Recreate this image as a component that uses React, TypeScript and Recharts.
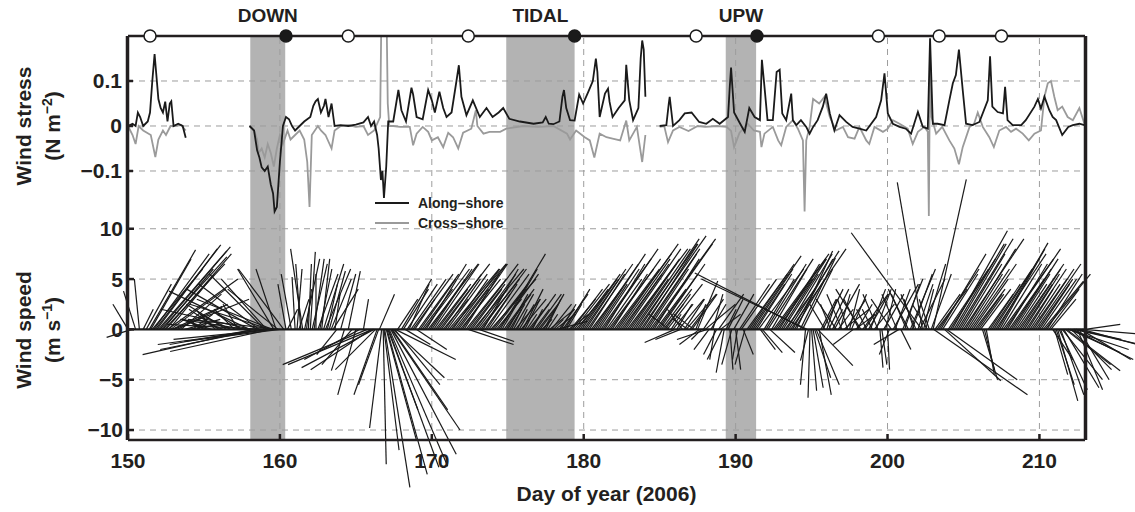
import React from "react";
import {
  ComposedChart,
  Legend,
  Line,
  ReferenceArea,
  ReferenceDot,
  ReferenceLine,
  XAxis,
  YAxis
} from "recharts";

type Pt = [number, number | null];
type Stick = [number, number, number]; // day, u (m/s), v (m/s)

const dayTicks = [150, 160, 170, 180, 190, 200, 210];
const stressTicks = [-0.1, 0, 0.1];
const speedTicks = [-10, -5, 0, 5, 10];

const events = [
  { name: "DOWN", start: 158.05, end: 160.35 },
  { name: "TIDAL", start: 174.9, end: 179.4 },
  { name: "UPW", start: 189.35, end: 191.35 }
];
const openSurveys = [151.45, 164.5, 172.4, 187.4, 199.4, 203.4, 207.5];
const filledSurveys = [160.4, 179.4, 191.4];

// wind stress (N m^-2), null = gap in the record
const alongShore: Pt[] = [
  [150.0, 0.0], [150.3, 0.005], [150.5, 0.0], [150.65, 0.03], [150.8, 0.02], [151.0, 0.0],
  [151.3, 0.01], [151.45, 0.03], [151.6, 0.1], [151.75, 0.16], [151.85, 0.12], [152.0, 0.06],
  [152.15, 0.04], [152.3, 0.03], [152.45, 0.054], [152.6, 0.01], [152.75, 0.05], [152.85, 0.055],
  [153.0, 0.0], [153.3, 0.005], [153.6, 0.0], [153.8, -0.026], [156.0, null],
  [158.0, 0.0], [158.3, -0.01], [158.5, -0.054], [158.65, -0.07], [158.8, -0.092], [159.0, -0.1],
  [159.2, -0.09], [159.4, -0.13], [159.55, -0.15], [159.65, -0.19], [159.8, -0.18], [160.0, -0.08],
  [160.2, 0.0], [160.4, 0.02], [160.6, 0.015], [160.8, 0.0], [161.0, -0.01], [161.3, 0.0],
  [161.6, 0.01], [162.0, 0.02], [162.2, 0.045], [162.35, 0.055], [162.5, 0.06], [162.7, 0.03],
  [162.9, 0.045], [163.0, 0.06], [163.2, 0.02], [163.4, 0.05], [163.6, 0.0], [164.0, 0.002],
  [164.5, 0.0], [165.0, 0.003], [165.5, 0.008], [165.8, 0.02], [166.0, 0.0], [166.2, 0.01],
  [166.4, -0.02], [166.5, -0.05], [166.65, -0.12], [166.75, -0.1], [166.85, -0.16], [167.0, -0.09],
  [167.13, 0.01], [167.46, 0.01], [167.8, 0.08], [168.0, 0.035], [168.3, 0.01], [168.66, 0.085],
  [168.77, 0.07], [169.0, 0.02], [169.4, 0.015], [169.76, 0.08], [170.0, 0.057], [170.2, 0.03],
  [170.5, 0.076], [170.75, 0.04], [170.97, 0.02], [171.3, 0.03], [171.6, 0.095], [171.78, 0.135],
  [171.95, 0.065], [172.28, 0.024], [172.7, 0.057], [173.16, 0.02], [173.6, 0.04], [174.0, 0.02],
  [174.4, 0.03], [174.7, 0.04], [175.1, 0.016], [175.8, 0.01], [176.7, 0.005], [177.3, 0.008],
  [177.5, 0.02], [177.7, 0.005], [178.0, 0.004], [178.4, 0.01], [178.6, 0.065], [178.7, 0.08],
  [178.85, 0.04], [179.1, 0.013], [179.4, 0.012], [179.7, 0.07], [179.96, 0.05], [180.3, 0.076],
  [180.6, 0.1], [180.8, 0.15], [180.9, 0.12], [181.05, 0.02], [181.4, 0.072], [181.6, 0.083],
  [181.7, 0.054], [181.9, 0.02], [182.3, 0.04], [182.7, 0.057], [182.8, 0.136], [183.0, 0.057],
  [183.25, 0.013], [183.6, 0.04], [183.75, 0.15], [183.85, 0.19], [183.95, 0.17], [184.06, 0.065],
  [184.5, null],
  [185.0, 0.0], [185.44, 0.002], [185.6, 0.05], [185.66, 0.065], [185.88, 0.0], [186.3, 0.013],
  [186.65, 0.028], [187.1, 0.03], [187.6, 0.009], [188.07, 0.005], [188.5, 0.016], [188.95, 0.005],
  [189.5, 0.02], [189.62, 0.09], [189.7, 0.13], [189.8, 0.08], [189.9, 0.03], [190.3, 0.005],
  [190.6, -0.013], [190.9, 0.04], [191.25, 0.02], [191.6, 0.013], [191.73, 0.147], [191.9, 0.087],
  [192.1, 0.013], [192.45, 0.013], [192.7, 0.12], [192.9, 0.125], [193.07, 0.028], [193.33, 0.013],
  [193.66, 0.072], [193.77, 0.013], [194.0, 0.002], [194.3, 0.013], [194.65, -0.002], [194.87, -0.017],
  [195.1, -0.002], [195.4, 0.013], [195.74, 0.043], [195.96, 0.072], [196.2, 0.028], [196.5, -0.01],
  [196.84, 0.024], [197.28, 0.009], [197.7, -0.002], [198.15, -0.006], [198.6, -0.01], [199.25, 0.02],
  [199.58, 0.057], [199.8, 0.117], [200.02, 0.028], [200.35, 0.005], [200.79, -0.002], [201.2, -0.006],
  [201.55, -0.017], [202.0, 0.031], [202.32, -0.002], [202.65, -0.006], [202.8, 0.195], [202.98, 0.005],
  [203.3, 0.005], [203.75, 0.002], [204.07, 0.057], [204.3, 0.095], [204.5, 0.113], [204.7, 0.17],
  [204.95, 0.08], [205.17, 0.005], [205.6, 0.002], [206.05, 0.009], [206.6, 0.057], [206.75, 0.155],
  [206.9, 0.043], [207.25, 0.031], [207.6, 0.028], [207.74, 0.087], [207.9, 0.013], [208.24, 0.002],
  [208.8, 0.002], [209.1, 0.013], [209.67, 0.043], [209.9, 0.06], [210.1, 0.039], [210.33, 0.065],
  [210.65, 0.035], [210.87, 0.02], [211.1, 0.013], [211.5, -0.02], [211.9, -0.002], [212.2, 0.002],
  [212.63, 0.005], [212.96, 0.002]
];

const crossShore: Pt[] = [
  [150.0, 0.0], [150.3, -0.02], [150.5, -0.04], [150.7, 0.0], [151.0, -0.01], [151.5, -0.02],
  [151.8, -0.069], [152.0, -0.03], [152.3, -0.01], [152.5, -0.02], [152.8, 0.0], [153.0, 0.0],
  [153.5, 0.002], [153.8, -0.01], [156.0, null],
  [158.0, 0.0], [158.3, -0.01], [158.5, -0.03], [158.6, -0.06], [158.8, -0.05], [159.0, -0.07],
  [159.2, -0.04], [159.4, -0.06], [159.6, -0.09], [159.8, -0.05], [160.0, -0.02], [160.2, -0.04],
  [160.5, -0.01], [160.7, -0.03], [161.0, -0.02], [161.3, -0.01], [161.6, -0.03], [161.8, -0.08],
  [161.95, -0.18], [162.1, -0.02], [162.5, 0.0], [162.7, -0.01], [163.0, -0.02], [163.4, -0.05],
  [163.6, -0.01], [164.0, 0.0], [164.5, 0.002], [165.0, -0.002], [165.5, 0.0], [165.8, -0.02],
  [166.2, -0.01], [166.6, 0.02], [166.7, 0.3], [166.85, 0.25], [167.0, 0.3], [167.1, 0.05],
  [167.2, 0.0], [167.46, 0.0], [167.9, -0.002], [168.55, -0.002], [168.77, -0.043], [169.0, -0.017],
  [169.4, -0.002], [169.76, -0.013], [170.0, -0.032], [170.4, -0.025], [170.75, -0.047], [171.08, -0.015],
  [171.4, -0.025], [171.74, -0.05], [172.06, -0.015], [172.6, -0.006], [172.9, 0.035], [173.0, 0.0],
  [173.4, -0.017], [173.8, -0.013], [174.5, -0.013], [174.9, -0.006], [176.0, 0.0], [177.0, -0.002],
  [178.0, 0.0], [178.9, -0.017], [179.1, -0.03], [179.5, -0.01], [180.07, -0.025], [180.4, -0.032],
  [180.7, -0.07], [181.05, -0.017], [181.5, -0.025], [181.9, -0.028], [182.4, -0.032], [182.8, 0.012],
  [183.0, -0.032], [183.5, -0.002], [183.7, -0.047], [183.85, -0.08], [184.06, -0.02], [184.5, null],
  [185.0, -0.002], [185.3, 0.0], [185.55, -0.036], [185.88, -0.01], [186.3, -0.002], [186.9, -0.011],
  [187.5, 0.0], [188.0, -0.002], [188.8, 0.0], [189.4, -0.002], [189.7, -0.011], [189.9, -0.047],
  [190.26, -0.015], [190.8, 0.005], [191.2, -0.01], [191.6, -0.013], [191.7, -0.047], [191.9, -0.017],
  [192.45, -0.002], [192.8, -0.032], [193.0, -0.043], [193.33, -0.002], [193.77, 0.013], [194.1, -0.006],
  [194.43, -0.032], [194.54, -0.19], [194.65, -0.032], [194.87, -0.002], [195.1, 0.06], [195.5, 0.05],
  [195.85, 0.065], [196.2, 0.02], [196.6, -0.01], [197.06, -0.002], [197.4, -0.025], [197.83, -0.028],
  [198.15, -0.002], [198.6, -0.032], [198.8, -0.04], [199.14, -0.002], [199.7, -0.013], [200.02, -0.006],
  [200.35, 0.013], [200.79, 0.005], [201.33, -0.006], [201.66, -0.04], [202.0, -0.013], [202.43, -0.002],
  [202.65, -0.013], [202.72, -0.2], [202.8, 0.16], [202.9, 0.02], [203.2, -0.017], [203.6, -0.002],
  [204.07, -0.032], [204.4, -0.05], [204.7, -0.085], [204.95, -0.047], [205.4, -0.002], [205.7, 0.005],
  [205.94, 0.03], [206.27, -0.002], [206.7, -0.025], [207.0, -0.047], [207.36, -0.01], [207.8, -0.002],
  [208.13, -0.013], [208.46, -0.006], [208.9, -0.017], [209.3, -0.032], [209.67, -0.017], [210.1, -0.01],
  [210.33, 0.065], [210.55, 0.095], [210.76, 0.1], [210.98, 0.065], [211.2, 0.035], [211.5, 0.043],
  [211.86, 0.02], [212.2, 0.013], [212.63, 0.04], [212.96, 0.005]
];

// wind vectors: [day, u, v] in m/s
const sticks150: Stick[] = [
  [150.0, -1.5, 2.5], [150.25, -2.5, -0.8], [150.5, -1.2, 3.8], [150.75, -0.5, 5.0],
  [151.0, 1.0, 2.0], [151.2, 2.5, 4.5], [151.4, 4.6, 7.9], [151.5, 4.0, 7.0], [151.6, 5.0, 6.0],
  [151.7, 5.5, 7.5], [151.8, 6.5, 8.4], [151.9, 6.0, 8.0],
  [152.0, 6.8, 7.8], [152.1, 7.0, 8.2], [152.2, 6.5, 7.2], [152.3, 5.0, 6.0], [152.4, 6.0, 6.5],
  [152.5, 6.5, 7.5], [152.6, 7.0, 5.0], [152.7, 4.5, 5.5], [152.8, 5.5, 4.0],
  [152.9, 5.0, 2.3], [153.0, 7.5, 3.0], [153.25, 5.0, 2.5], [153.5, 4.0, 3.5], [153.75, 3.5, 1.0],
  [154.0, 3.0, 0.5], [154.25, 2.0, 1.5], [154.5, 1.0, 0.5], [154.75, -1.0, 1.0],
  [155.0, -2.0, 1.0], [155.25, -1.5, 0.5], [155.5, -3.0, 1.0], [155.75, -2.0, 2.0],
  [156.0, -3.0, 2.0], [156.25, -2.5, 1.0], [156.5, -4.0, 2.5], [156.75, -3.0, 1.5],
  [157.0, -2.0, 2.0], [157.25, -1.5, 2.5], [157.5, -2.5, 1.5], [157.75, -6.5, 1.0],
  [158.0, -8.0, 3.8], [158.125, -9.0, 2.0], [158.25, -11.0, -2.5], [158.375, -8.5, -1.5],
  [158.5, -7.0, 4.0], [158.625, -6.0, 4.5], [158.75, -10.0, -2.0], [158.875, -9.5, 0.5],
  [159.0, -5.5, 5.5], [159.125, -4.5, 5.0], [159.25, -11.0, -1.5], [159.375, -8.0, 2.5],
  [159.4, -10.0, -2.2], [159.5, -7.5, 3.0], [159.6, -3.6, 6.0], [159.625, -10.0, -1.0],
  [159.75, -2.0, 6.0], [159.875, -5.0, 4.0], [159.9, -9.0, 1.0]
];

const sticks160: Stick[] = [
  [160.0, -9.5, -1.2], [160.25, -4.5, 6.0], [160.4, -0.8, 4.5], [160.5, 1.0, 2.0], [160.75, -1.0, 5.5],
  [161.0, -0.3, 5.2], [161.125, 0.5, 6.0], [161.25, 1.0, 3.0], [161.375, -0.5, 6.5], [161.5, -1.2, 8.0],
  [161.625, 1.5, 7.0], [161.75, 0.5, 4.0], [161.875, 0.3, 6.5],
  [162.0, 0.5, 7.7], [162.125, 1.5, 6.5], [162.25, 1.0, 7.0], [162.375, 0.0, 5.5], [162.5, 2.0, 5.5],
  [162.625, 1.2, 6.0], [162.75, 0.8, 7.0], [162.875, 2.0, 6.5],
  [163.0, 2.5, 6.0], [163.125, 1.0, 4.5], [163.25, 1.6, 5.8], [163.375, 2.0, 5.0], [163.5, 2.5, 4.0],
  [163.625, 0.5, 3.5], [163.75, -2.0, -2.5],
  [164.0, 1.5, 5.5], [164.25, -1.3, -4.1], [164.5, 1.2, 5.8], [164.75, -3.0, -3.5],
  [165.0, -1.8, -6.5], [165.25, -5.5, -3.0], [165.5, 0.5, 3.0], [165.75, -8.4, -3.5],
  [166.0, -6.0, -4.0], [166.1, -8.4, -3.5], [166.2, -7.2, -3.8], [166.3, -4.0, -4.0],
  [166.4, -2.3, -6.5], [166.5, -2.0, -5.5], [166.55, 1.5, 3.5],
  [166.7, -1.2, -9.8], [166.8, 0.3, -13.4], [166.85, 1.5, -12.0], [166.9, 2.5, -15.7],
  [167.0, 3.0, -11.0], [167.05, 4.0, -14.4], [167.1, 3.0, -8.0], [167.15, 5.0, -13.7],
  [167.2, 5.8, -13.6], [167.3, 6.5, -12.4], [167.35, 6.8, -10.0], [167.4, 5.5, -8.0],
  [167.45, 5.1, -4.8], [167.55, 4.5, -5.5], [167.6, 6.0, -3.0],
  [167.75, 2.0, 3.0], [168.0, 3.0, 5.0], [168.125, 2.5, 4.0], [168.25, 2.5, -1.5], [168.375, 3.0, 4.5],
  [168.5, 2.0, 4.5], [168.625, 3.5, 5.0], [168.75, 4.0, 5.5], [168.875, 2.0, 3.0],
  [169.0, 3.0, -2.0], [169.125, 4.0, 5.5], [169.25, 3.5, 5.0], [169.375, 3.0, 4.0], [169.5, 4.5, 6.0],
  [169.625, 4.0, 6.5], [169.75, 5.0, 6.5], [169.875, 3.5, 5.0]
];

const sticks170: Stick[] = [
  [170.0, 4.0, 6.0], [170.125, 4.5, 6.5], [170.25, 3.5, 4.5], [170.375, 3.0, 4.0], [170.5, 5.0, 6.5],
  [170.625, 4.0, 5.5], [170.75, 2.5, 3.0], [170.875, 3.5, 5.0],
  [171.0, 4.0, 5.5], [171.125, 5.0, 6.0], [171.25, 5.5, 6.5], [171.375, 3.5, 5.0], [171.5, 4.5, 6.0],
  [171.625, 5.0, 6.5], [171.75, 3.0, 4.0], [171.875, 4.0, 5.0],
  [172.0, 4.5, 6.5], [172.125, 3.5, 5.5], [172.25, 4.0, 5.0], [172.375, 5.0, 6.5], [172.4, 4.5, -1.5],
  [172.5, 3.5, 4.5], [172.625, 3.0, 4.0], [172.75, 5.0, 6.0], [172.875, 4.0, 5.5],
  [173.0, 3.0, 4.0], [173.1, 3.5, -1.2], [173.125, 4.0, 5.0], [173.25, 4.5, 6.0], [173.375, 3.5, 6.0],
  [173.5, 2.5, 3.5], [173.625, 3.0, 4.5], [173.75, 4.0, 5.5], [173.875, 4.5, 5.0],
  [174.0, 3.5, 4.5], [174.125, 3.0, 4.0], [174.25, 2.5, 3.0], [174.375, 4.0, 5.5], [174.5, 4.5, 7.5],
  [174.625, 3.5, 6.0], [174.75, 3.0, 4.0], [174.875, 2.5, 3.5],
  [175.0, 2.0, 3.5], [175.125, 1.5, 2.5], [175.25, 1.0, 2.0], [175.375, 2.0, 3.5], [175.5, 2.5, 3.0],
  [175.625, 1.0, 2.0], [175.75, 1.5, 2.5], [175.875, 2.5, 3.0],
  [176.0, 2.0, 4.0], [176.125, 1.5, 3.0], [176.25, 1.0, 1.5], [176.375, 2.0, 2.5], [176.5, 2.5, 3.5],
  [176.625, 1.0, 2.0], [176.75, 1.5, 2.0], [176.875, 2.5, 3.5],
  [177.0, 2.0, 2.5], [177.125, 1.5, 2.0], [177.25, 1.0, 1.0], [177.375, 2.0, 3.5], [177.5, 1.5, 3.0],
  [177.625, 1.0, 1.5], [177.75, 2.5, 2.0], [177.875, 2.0, 2.5],
  [178.0, 1.0, 1.0], [178.125, 2.0, 1.5], [178.25, 3.0, 0.8], [178.375, 1.5, 2.0], [178.5, 1.5, 2.5],
  [178.625, 2.5, 3.5], [178.75, 2.5, 4.0], [178.875, 1.5, 2.5],
  [179.0, 2.0, 1.5], [179.125, 2.5, 3.0], [179.25, 3.0, 4.0], [179.375, 3.5, 4.5], [179.5, 2.5, 3.0],
  [179.625, 3.0, 4.0], [179.75, 4.0, 5.5], [179.875, 3.5, 5.0]
];

const sticks180: Stick[] = [
  [180.0, 3.5, 5.0], [180.125, 4.0, 6.0], [180.25, 4.5, 6.5], [180.375, 3.5, 5.5], [180.5, 3.0, 4.0],
  [180.625, 4.5, 6.5], [180.75, 5.0, 7.5], [180.875, 3.0, 4.5],
  [181.0, 4.0, 6.0], [181.125, 5.0, 7.0], [181.25, 5.5, 8.0], [181.375, 4.0, 6.5], [181.5, 3.5, 5.0],
  [181.625, 4.5, 6.0], [181.75, 5.0, 7.0], [181.875, 3.5, 5.5],
  [182.0, 4.5, 6.0], [182.125, 5.5, 7.5], [182.25, 6.0, 8.5], [182.375, 5.0, 7.0], [182.5, 4.0, 5.5],
  [182.625, 4.5, 6.5], [182.75, 5.5, 8.0], [182.875, 6.0, 8.0],
  [183.0, 5.0, 7.0], [183.125, 4.5, 6.5], [183.25, 3.5, 5.0], [183.375, 5.5, 8.0], [183.5, 6.0, 8.5],
  [183.625, 6.0, 9.0], [183.75, 6.5, 9.3], [183.875, 5.5, 8.5],
  [184.0, 5.5, 8.0], [184.125, 5.0, 7.5], [184.25, 4.0, 6.0], [184.375, 6.5, 9.0], [184.5, 6.0, 8.5],
  [184.625, 4.5, 7.0], [184.75, 3.0, 4.0], [184.875, 4.0, 5.5],
  [185.0, 4.5, 6.5], [185.125, 3.0, 4.0], [185.25, 2.0, 2.5], [185.375, 2.5, 3.5], [185.5, 3.5, 4.5],
  [185.625, -2.0, 1.5], [185.75, 1.0, 1.5], [185.875, 2.0, 2.5],
  [186.0, -3.0, -1.3], [186.125, 1.5, 2.5], [186.25, 2.5, 3.0], [186.375, -2.5, -1.0], [186.5, -1.5, 2.0],
  [186.625, 2.0, 3.0], [186.75, 3.0, 3.5], [186.875, -1.5, 1.0],
  [187.0, 1.5, 2.0], [187.125, 2.5, 3.5], [187.25, -2.0, 1.5], [187.375, 1.0, 2.5], [187.5, 2.0, 4.8],
  [187.625, -2.0, -1.5], [187.75, -1.0, -1.0], [187.875, 2.0, 3.0],
  [188.0, 3.0, 2.5], [188.125, -3.0, -1.0], [188.25, -1.5, -2.0], [188.375, 1.5, 2.5], [188.5, 1.0, 3.5],
  [188.625, -0.5, -3.0], [188.75, -1.3, -2.5], [188.875, 2.5, 3.5],
  [189.0, 2.0, 1.5], [189.125, -1.5, -3.0], [189.25, -0.8, -4.3], [189.375, 1.0, 2.0], [189.5, 1.5, 3.0],
  [189.625, 0.3, -4.0], [189.75, -1.0, -3.5], [189.875, 2.0, 3.5]
];

const sticks190: Stick[] = [
  [190.0, 0.5, -4.0], [190.125, -0.5, -3.0], [190.25, 3.0, 4.5], [190.375, 3.5, 5.0], [190.5, 1.0, -2.5],
  [190.625, -1.0, -3.5], [190.75, 4.0, 5.5], [190.875, 4.5, 6.5],
  [191.0, 5.0, 7.3], [191.125, 4.0, 6.0], [191.25, 3.0, 4.5], [191.375, 3.5, 5.5], [191.5, 4.5, 6.0],
  [191.625, 1.5, -2.0], [191.75, 2.0, -2.3], [191.875, 3.0, 5.0],
  [192.0, 4.0, 6.5], [192.125, 4.5, 7.0], [192.25, 2.5, -2.3], [192.375, 3.5, 6.0], [192.5, 5.5, 7.5],
  [192.625, 5.0, 7.0], [192.75, 3.5, 5.0], [192.875, 4.0, 6.5],
  [193.0, 4.5, 7.0], [193.125, 3.5, 5.5], [193.25, 3.0, 4.0], [193.375, 4.5, 7.5], [193.5, 5.0, 7.8],
  [193.625, 5.5, 8.0], [193.75, 4.0, 7.0], [193.875, 3.0, 5.0],
  [194.0, 3.6, 7.8], [194.25, 3.5, 7.1], [194.4, 3.0, 6.0], [194.6, -11.0, 5.6], [194.7, -10.5, 5.0],
  [194.6, -0.5, -5.5], [194.8, -0.8, -3.1], [194.9, -0.2, -6.8], [195.0, 0.5, -6.1],
  [195.1, 1.0, -5.8], [195.2, 1.6, -4.8], [195.3, 2.3, -5.5], [195.4, 3.5, -3.6], [195.5, 1.2, -6.5],
  [195.625, 1.5, 3.0], [195.75, 2.0, 4.0], [195.875, -1.5, 2.5],
  [196.0, 1.0, 3.0], [196.125, 2.0, 4.0], [196.25, -1.0, 2.5], [196.375, 1.0, 2.0], [196.5, 2.5, 4.5],
  [196.625, -2.0, 3.0], [196.75, 1.5, 2.0], [196.875, 1.0, 3.5],
  [197.0, -1.5, 3.5], [197.125, 2.5, 2.0], [197.25, 2.0, 3.0], [197.375, -1.0, 3.0], [197.5, 1.0, 4.0],
  [197.625, 1.5, 3.5], [197.75, -2.0, -1.5], [197.875, 2.0, 1.5],
  [198.0, 1.5, 2.5], [198.125, -1.5, 3.0], [198.25, -2.5, 4.0], [198.375, 2.5, 3.5], [198.5, 1.0, 1.5],
  [198.625, -1.0, 2.0], [198.75, 2.0, 3.5], [198.875, 1.5, 4.0],
  [199.0, -1.0, 2.0], [199.125, 2.0, 2.5], [199.25, 1.5, 4.0], [199.375, -1.5, 3.5], [199.5, 0.3, -3.8],
  [199.625, 0.5, -3.5], [199.75, 2.0, 3.5], [199.875, 1.0, 4.0]
];

const sticks200: Stick[] = [
  [200.0, 0.2, -4.0], [200.125, -1.0, -2.5], [200.25, -2.0, 3.0], [200.375, 2.5, 4.5], [200.5, 1.5, 4.0],
  [200.625, -1.5, 3.5], [200.75, -2.5, -1.5], [200.875, 1.0, -2.0],
  [201.0, 2.0, 5.0], [201.125, 1.5, 4.5], [201.25, -1.5, 3.5], [201.375, -2.0, 4.0], [201.5, 2.5, 6.0],
  [201.625, 2.0, 5.5], [201.75, -1.0, 3.0], [201.875, -1.5, 3.5],
  [202.0, 1.5, 4.5], [202.125, 2.5, 5.0], [202.25, -7.0, 9.6], [202.3, -2.5, 14.6], [202.375, 1.0, 4.0],
  [202.5, 2.0, 6.5], [202.625, -1.5, 2.5], [202.75, -1.0, 3.0], [202.875, 2.0, 5.5],
  [203.0, 3.3, 14.9], [203.05, 9.3, -6.5], [203.125, 2.5, 3.5], [203.25, 3.0, 4.0], [203.375, 4.0, 6.0],
  [203.5, 4.5, 7.5], [203.625, 3.5, 5.5], [203.75, 5.6, -5.1], [203.9, 7.0, -5.0],
  [204.0, 4.0, 6.0], [204.125, 4.5, 7.0], [204.25, 5.5, 9.8], [204.375, 5.0, 8.5], [204.5, 5.0, 8.5],
  [204.625, 5.5, 9.0], [204.75, 4.5, 7.5], [204.875, 4.0, 6.5],
  [205.0, 6.0, 9.0], [205.125, 5.0, 8.0], [205.25, 3.5, 5.5], [205.375, 4.0, 6.0], [205.5, 4.5, 6.5],
  [205.625, 3.5, 5.0], [205.75, 3.0, 4.0], [205.875, 2.5, 3.5],
  [206.0, 2.5, 3.5], [206.125, 3.0, 4.0], [206.25, 1.5, -5.0], [206.375, 1.0, -4.0], [206.5, 0.8, -4.5],
  [206.625, 2.5, 3.5], [206.75, 3.0, 4.5], [206.875, 4.0, 6.0],
  [207.0, 4.5, 7.0], [207.125, 5.0, 7.5], [207.25, 5.0, 8.6], [207.375, 4.5, 8.0], [207.5, 4.0, 6.5],
  [207.625, 5.0, 7.0], [207.75, 5.5, 8.0], [207.875, 4.0, 6.5],
  [208.0, 3.5, 5.0], [208.125, 4.0, 6.0], [208.25, 4.5, 7.0], [208.375, 3.5, 5.5], [208.5, 3.0, 4.5],
  [208.625, 4.5, 6.5], [208.75, 4.0, 6.0], [208.875, 3.0, 4.5],
  [209.0, 3.5, 5.5], [209.125, 4.0, 6.0], [209.25, 2.5, 4.0], [209.375, 3.0, 4.5], [209.5, 3.5, 5.0],
  [209.625, 4.0, 6.0], [209.75, 4.5, 6.5], [209.875, 3.5, 5.0],
  [210.0, 3.0, 4.5], [210.125, 3.5, 5.0], [210.25, 4.0, 4.8], [210.375, 4.5, 5.5], [210.5, 3.5, 5.5],
  [210.625, 3.0, 4.0], [210.75, 2.5, 3.0], [210.875, 2.0, -3.0],
  [211.0, 1.3, -4.5], [211.1, 1.8, -5.5], [211.2, 2.0, -7.1], [211.3, 2.8, -6.0], [211.4, 2.3, -6.5],
  [211.5, 4.0, -5.0], [211.6, 3.5, -5.8], [211.7, 4.5, -3.5], [211.8, 5.3, -4.1], [211.9, 6.0, -2.0],
  [212.0, 5.0, -2.3], [212.1, 4.0, -4.0], [212.2, 6.0, -3.0], [212.3, 6.5, -1.5], [212.4, 4.5, -1.0],
  [212.5, 2.5, -6.0], [212.6, 3.0, -5.0], [212.7, 5.0, -3.0], [212.8, 5.5, -1.5], [212.9, 6.0, -0.5],
  [213.0, 3.5, 0.5]
];

const INK = "#231f20";
const GRID = "#9d9d9d";
const SHADE = "#b3b3b3";
const FONT = '"Liberation Sans", Arial, Helvetica, sans-serif';
// days per (m/s) so that sticks keep their true angle on screen
const STICK_DAYS_PER_MS = 0.6626;

const minus = (v: number) => (v < 0 ? `\u2212${Math.abs(v)}` : `${v}`);
const tickFont = { fill: INK, fontSize: 21, fontWeight: 700 };
const axisLine = { stroke: INK, strokeWidth: 2.5 };

function SeriesLegend({ payload }: any) {
  return (
    <div style={{ fontFamily: FONT, fontWeight: 700, fontSize: 14, color: INK }}>
      {(payload || []).map((p: any) => (
        <div key={p.value} style={{ display: "flex", alignItems: "center", height: 20 }}>
          <svg width={34} height={4} style={{ display: "block" }}>
            <line x1={0} y1={2} x2={34} y2={2} stroke={p.color} strokeWidth={2} />
          </svg>
          <span style={{ marginLeft: 9 }}>{p.value}</span>
        </div>
      ))}
    </div>
  );
}

export default function App() {
  const along = alongShore.map(([day, v]) => ({ day, along: v }));
  const cross = crossShore.map(([day, v]) => ({ day, cross: v }));
  const sticks = [...sticks150, ...sticks160, ...sticks170, ...sticks180, ...sticks190, ...sticks200];

  const title: React.CSSProperties = {
    position: "absolute",
    transform: "translate(-50%, -50%) rotate(-90deg)",
    textAlign: "center",
    whiteSpace: "nowrap",
    fontFamily: FONT,
    fontWeight: 700,
    fontSize: 21,
    lineHeight: "29px",
    color: INK
  };
  const sup: React.CSSProperties = { fontSize: 14, lineHeight: 0, verticalAlign: "8px" };

  return (
    <div style={{ position: "absolute", left: 0, top: 0, width: 1135, height: 512, background: "#fff", fontFamily: FONT }}>
      <ComposedChart width={1135} height={512} margin={{ top: 35, right: 48, bottom: 71, left: 126 }}>
        {events.map((e) => (
          <ReferenceArea
            key={e.name}
            xAxisId="day"
            yAxisId="stress"
            x1={e.start}
            x2={e.end}
            fill={SHADE}
            fillOpacity={1}
            stroke="none"
            label={{ value: e.name, position: "top", offset: 14, fill: INK, fontSize: 19, fontWeight: 700 }}
          />
        ))}

        {dayTicks.slice(1).map((d) => (
          <ReferenceLine key={`vx${d}`} xAxisId="day" yAxisId="stress" x={d} stroke={GRID} strokeDasharray="6 5" />
        ))}
        {stressTicks.map((t) => (
          <ReferenceLine key={`hs${t}`} xAxisId="day" yAxisId="stress" y={t} stroke={GRID} strokeDasharray="6 5" />
        ))}
        {speedTicks.map((t) => (
          <ReferenceLine key={`hw${t}`} xAxisId="day" yAxisId="speed" y={t} stroke={GRID} strokeDasharray="6 5" />
        ))}

        <Line
          data={cross}
          name="Cross–shore"
          xAxisId="day"
          yAxisId="stress"
          dataKey="cross"
          type="linear"
          stroke="#9a9a9a"
          strokeWidth={1.8}
          dot={false}
          activeDot={false}
          isAnimationActive={false}
        />
        <Line
          data={along}
          name="Along–shore"
          xAxisId="day"
          yAxisId="stress"
          dataKey="along"
          type="linear"
          stroke="#1a1a1a"
          strokeWidth={1.8}
          dot={false}
          activeDot={false}
          isAnimationActive={false}
        />

        {/* stick-plot baseline */}
        <ReferenceLine
          xAxisId="day"
          yAxisId="speed"
          segment={[
            { x: sticks150[0][0], y: 0 },
            { x: sticks200[sticks200.length - 1][0], y: 0 }
          ]}
          stroke="#1a1a1a"
          strokeWidth={2.2}
        />
        {sticks.map(([day, u, v], i) => (
          <ReferenceLine
            key={`s${i}`}
            xAxisId="day"
            yAxisId="speed"
            ifOverflow="visible"
            segment={[
              { x: day, y: 0 },
              { x: day + u * STICK_DAYS_PER_MS, y: v }
            ]}
            stroke="#1a1a1a"
            strokeWidth={1.2}
          />
        ))}

        <Legend
          layout="vertical"
          align="center"
          verticalAlign="middle"
          wrapperStyle={{ left: 375, top: 193, width: 180 }}
          content={<SeriesLegend />}
        />

        <XAxis
          xAxisId="day"
          type="number"
          dataKey="day"
          domain={[150, 213]}
          allowDataOverflow
          ticks={dayTicks}
          height={1}
          tickSize={-6}
          tickMargin={19}
          tick={tickFont}
          axisLine={axisLine}
          tickLine={axisLine}
          label={{ value: "Day of year (2006)", position: "bottom", offset: 45, fill: INK, fontSize: 21, fontWeight: 700 }}
        />
        <XAxis
          xAxisId="top"
          orientation="top"
          type="number"
          domain={[150, 213]}
          allowDataOverflow
          ticks={dayTicks}
          height={1}
          tickSize={-6}
          tick={false}
          axisLine={axisLine}
          tickLine={axisLine}
        />
        <YAxis
          yAxisId="stress"
          type="number"
          domain={[-0.6978, 0.2]}
          allowDataOverflow
          ticks={stressTicks}
          tickFormatter={minus}
          width={1}
          tickSize={-6}
          tickMargin={11}
          tick={tickFont}
          axisLine={axisLine}
          tickLine={axisLine}
        />
        <YAxis
          yAxisId="speed"
          type="number"
          domain={[-10.99, 29.15]}
          allowDataOverflow
          ticks={speedTicks}
          tickFormatter={minus}
          width={1}
          tickSize={-6}
          tickMargin={11}
          tick={tickFont}
          axisLine={axisLine}
          tickLine={axisLine}
        />
        <YAxis
          yAxisId="stressR"
          orientation="right"
          type="number"
          domain={[-0.6978, 0.2]}
          allowDataOverflow
          ticks={stressTicks}
          width={1}
          tickSize={-6}
          tick={false}
          axisLine={axisLine}
          tickLine={axisLine}
        />
        <YAxis
          yAxisId="speedR"
          orientation="right"
          type="number"
          domain={[-10.99, 29.15]}
          allowDataOverflow
          ticks={speedTicks}
          width={1}
          tickSize={-6}
          tick={false}
          axisLine={axisLine}
          tickLine={axisLine}
        />

        {openSurveys.map((d) => (
          <ReferenceDot key={`o${d}`} xAxisId="day" yAxisId="stress" x={d} y={0.2} r={6} fill="#fff" stroke="#1a1a1a" strokeWidth={1.5} ifOverflow="visible" />
        ))}
        {filledSurveys.map((d) => (
          <ReferenceDot key={`f${d}`} xAxisId="day" yAxisId="stress" x={d} y={0.2} r={6} fill="#1a1a1a" stroke="#1a1a1a" strokeWidth={1.5} ifOverflow="visible" />
        ))}
      </ComposedChart>

      <div style={{ ...title, left: 38, top: 126 }}>
        <div>Wind stress</div>
        <div>
          (N m<sup style={sup}>−2</sup>)
        </div>
      </div>
      <div style={{ ...title, left: 38, top: 330 }}>
        <div>Wind speed</div>
        <div>
          (m s<sup style={sup}>−1</sup>)
        </div>
      </div>
    </div>
  );
}
